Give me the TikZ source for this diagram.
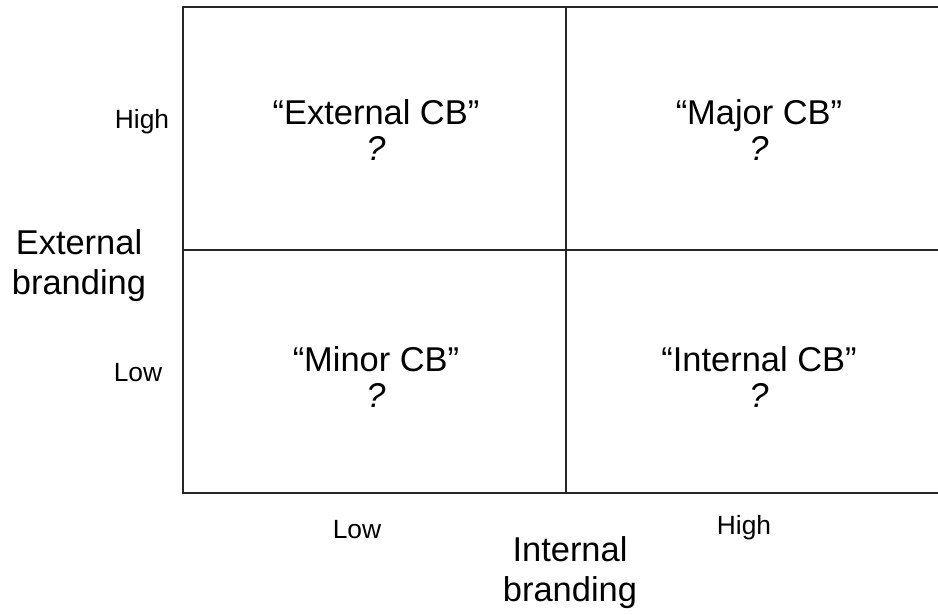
\documentclass[tikz,border=0pt]{standalone}
\usepackage{fontspec}
\setmainfont{Liberation Sans}
\begin{document}
\begin{tikzpicture}[x=0.02cm, y=-0.02cm,
  quad/.style={align=center, font=\fontsize{19.6}{20.8}\selectfont},
  axis/.style={align=center, font=\fontsize{19.6}{22.7}\selectfont},
  tick/.style={font=\fontsize{15}{17}\selectfont}]
\useasboundingbox (0,0) rectangle (938,615);
% grid
\draw[line width=1.1pt, black!85] (938,7) -- (183,7) -- (183,493) -- (938,493);
\draw[line width=0.9pt, black!85] (566,7) -- (566,493);
\draw[line width=0.9pt, black!85] (183,250) -- (938,250);
% quadrants
\node[quad] (ext) at (376,130) {“External CB”\\\textit{?}};
\node[quad] (maj) at (759,130) {“Major CB”\\\textit{?}};
\node[quad] (min) at (376,377) {“Minor CB”\\\textit{?}};
\node[quad] (int) at (759,377) {“Internal CB”\\\textit{?}};
% axes
\node[tick] (yhigh) at (142,122) {High};
\node[tick] (ylow) at (138,373) {Low};
\node[axis] (yaxis) at (79,266) {External\\branding};
\node[tick] (xlow) at (357,530) {Low};
\node[tick] (xhigh) at (744,528) {High};
\node[axis] (xaxis) at (570,573) {Internal\\branding};
\end{tikzpicture}
\end{document}
